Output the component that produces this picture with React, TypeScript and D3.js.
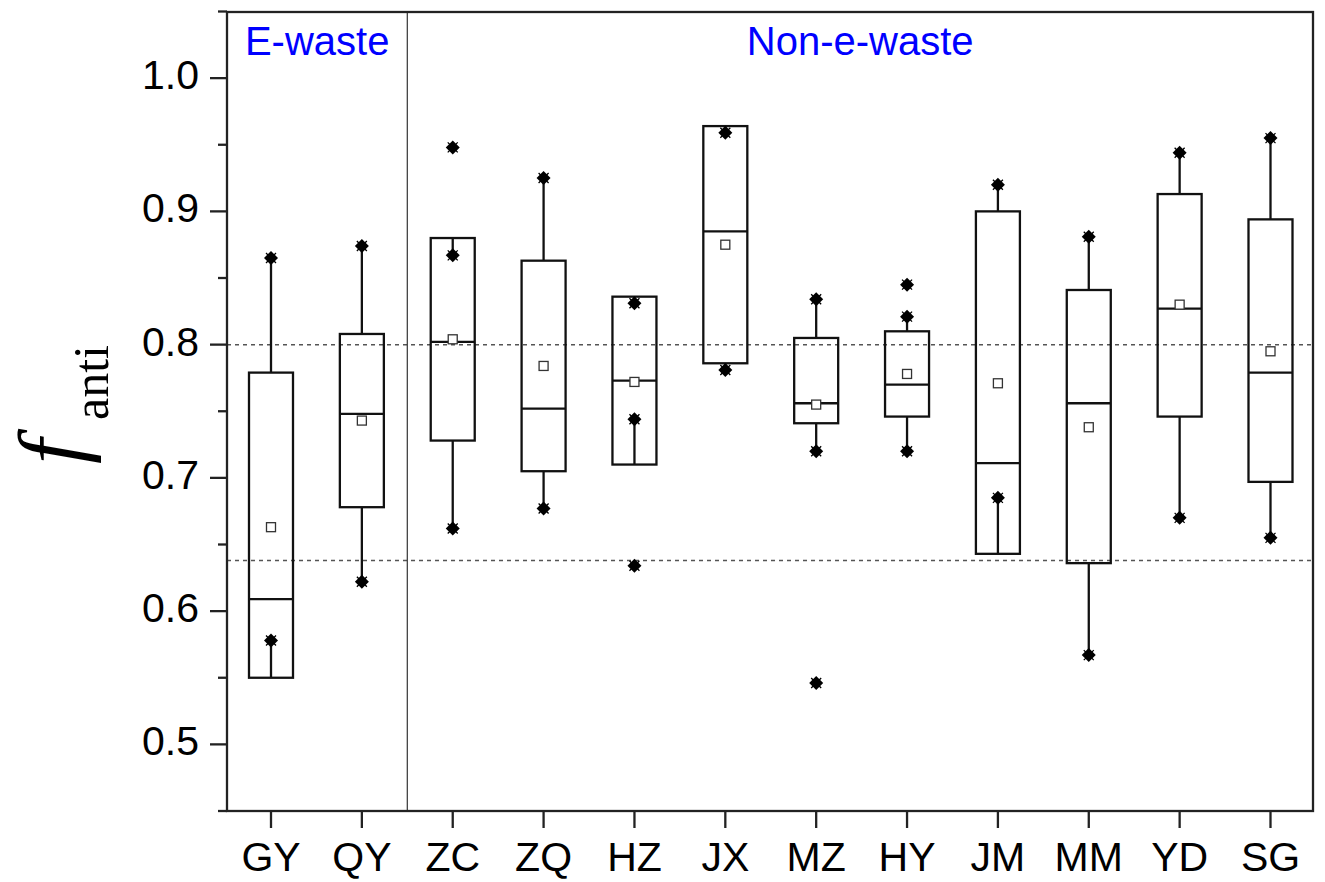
import * as d3 from 'd3';
import React from 'react';

// sampling sites
const categories = ['GY', 'QY', 'ZC', 'ZQ', 'HZ', 'JX', 'MZ', 'HY', 'JM', 'MM', 'YD', 'SG'];

// box statistics
const q1 = [0.55, 0.678, 0.728, 0.705, 0.71, 0.786, 0.741, 0.746, 0.643, 0.636, 0.746, 0.697];
const medians = [0.609, 0.748, 0.802, 0.752, 0.773, 0.885, 0.756, 0.77, 0.711, 0.756, 0.827, 0.779];
const q3 = [0.779, 0.808, 0.88, 0.863, 0.836, 0.964, 0.805, 0.81, 0.9, 0.841, 0.913, 0.894];
const means = [0.663, 0.743, 0.804, 0.784, 0.772, 0.875, 0.755, 0.778, 0.771, 0.738, 0.83, 0.795];
const whiskerLow = [0.578, 0.622, 0.662, 0.677, 0.744, 0.781, 0.72, 0.72, 0.685, 0.567, 0.67, 0.655];
const whiskerHigh = [0.865, 0.874, 0.867, 0.925, 0.831, 0.959, 0.834, 0.821, 0.92, 0.881, 0.944, 0.955];

// extra points without whisker line
const extraSites = ['ZC', 'HZ', 'MZ', 'HY'];
const extraValues = [0.948, 0.634, 0.546, 0.845];

const yTicks = [0.5, 0.6, 0.7, 0.8, 0.9, 1.0];
const yMinorTicks = [0.45, 0.55, 0.65, 0.75, 0.85, 0.95, 1.05];
const refLines = [0.8, 0.638];
const groups = ['E-waste', 'Non-e-waste'];

const W = 1325;
const H = 882;
const left = 227;
const right = 1313;
const top = 12;
const bottom = 811;

const Marker: React.FC<{ cx: number; cy: number }> = ({ cx, cy }) => {
  const r = 7;
  const c = 5;
  return (
    <g>
      <path d={`M${cx},${cy - r}L${cx + r},${cy}L${cx},${cy + r}L${cx - r},${cy}Z`} fill="#000" />
      <path
        d={`M${cx - c},${cy - c}L${cx + c},${cy + c}M${cx - c},${cy + c}L${cx + c},${cy - c}`}
        stroke="#000"
        strokeWidth={1.3}
      />
    </g>
  );
};

const App: React.FC = () => {
  const x = d3.scalePoint<string>().domain(categories).range([271, 1270.5]);
  const y = d3.scaleLinear().domain([0.45, 1.05]).range([bottom, 11.5]);
  const boxW = 44;
  const divX = ((x('QY') ?? 0) + (x('ZC') ?? 0)) / 2;
  const font = 'Arial, "Liberation Sans", sans-serif';
  const sw = 2.3;

  return (
    <svg
      width={W}
      height={H}
      style={{ position: 'absolute', left: 0, top: 0, background: '#fff' }}
    >
      {/* reference lines */}
      {refLines.map((v) => (
        <line
          key={v}
          x1={left}
          x2={right}
          y1={y(v)}
          y2={y(v)}
          stroke="#555"
          strokeWidth={1.5}
          strokeDasharray="4,4"
        />
      ))}

      {/* group divider */}
      <line x1={divX} x2={divX} y1={top} y2={bottom} stroke="#333" strokeWidth={1.2} />

      {/* group labels */}
      <text x={(left + divX) / 2} y={55} textAnchor="middle" fontSize={40} fontFamily={font} fill="#0000ff">
        {groups[0]}
      </text>
      <text x={(divX + right) / 2} y={55} textAnchor="middle" fontSize={40} fontFamily={font} fill="#0000ff">
        {groups[1]}
      </text>

      {/* boxes */}
      {categories.map((c, i) => {
        const cx = x(c) ?? 0;
        return (
          <g key={c}>
            <line x1={cx} x2={cx} y1={y(q3[i])} y2={y(whiskerHigh[i])} stroke="#111" strokeWidth={sw} />
            <line x1={cx} x2={cx} y1={y(q1[i])} y2={y(whiskerLow[i])} stroke="#111" strokeWidth={sw} />
            <rect
              x={cx - boxW / 2}
              y={y(q3[i])}
              width={boxW}
              height={y(q1[i]) - y(q3[i])}
              fill="none"
              stroke="#111"
              strokeWidth={sw}
            />
            <line
              x1={cx - boxW / 2}
              x2={cx + boxW / 2}
              y1={y(medians[i])}
              y2={y(medians[i])}
              stroke="#111"
              strokeWidth={sw}
            />
            <rect
              x={cx - 4.5}
              y={y(means[i]) - 4.5}
              width={9}
              height={9}
              fill="#fff"
              stroke="#333"
              strokeWidth={1.3}
            />
            <Marker cx={cx} cy={y(whiskerHigh[i])} />
            <Marker cx={cx} cy={y(whiskerLow[i])} />
          </g>
        );
      })}
      {extraSites.map((s, i) => (
        <Marker key={s} cx={x(s) ?? 0} cy={y(extraValues[i])} />
      ))}

      {/* frame */}
      <rect x={left} y={top} width={right - left} height={bottom - top} fill="none" stroke="#222" strokeWidth={sw} />

      {/* y ticks */}
      {yTicks.map((t) => (
        <g key={t}>
          <line x1={left - 17} x2={left} y1={y(t)} y2={y(t)} stroke="#222" strokeWidth={sw} />
          <text x={199} y={y(t) + 11} textAnchor="end" fontSize={41} fontFamily={font} fill="#000">
            {d3.format('.1f')(t)}
          </text>
        </g>
      ))}
      {yMinorTicks.map((t) => (
        <line key={t} x1={left - 9} x2={left} y1={y(t)} y2={y(t)} stroke="#222" strokeWidth={sw} />
      ))}

      {/* x ticks */}
      {categories.map((c) => (
        <g key={c}>
          <line x1={x(c)} x2={x(c)} y1={bottom} y2={bottom + 17} stroke="#222" strokeWidth={sw} />
          <text x={x(c)} y={871} textAnchor="middle" fontSize={41} fontFamily={font} fill="#000">
            {c}
          </text>
        </g>
      ))}

      {/* y title */}
      <text
        transform="translate(82,464) rotate(-90)"
        fontSize={90}
        fontStyle="italic"
        fontFamily='"Times New Roman", "Liberation Serif", serif'
        fill="#000"
      >
        f
      </text>
      <text
        transform="translate(108,420) rotate(-90)"
        fontSize={50}
        fontFamily='"Times New Roman", "Liberation Serif", serif'
        fill="#000"
      >
        anti
      </text>
    </svg>
  );
};

export default App;
